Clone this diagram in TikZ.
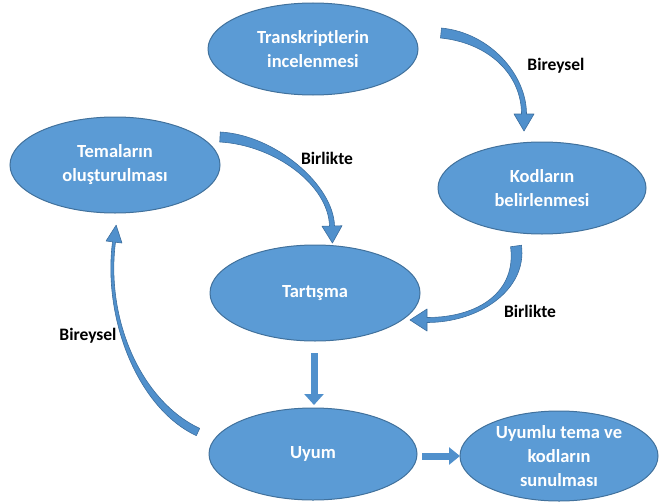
\documentclass[tikz,border=0pt]{standalone}
\usepackage{fontspec}
\setmainfont{Carlito}
\usetikzlibrary{calc,shapes.geometric,arrows.meta}
\definecolor{ellfill}{HTML}{5B9BD5}
\definecolor{ellline}{HTML}{41719C}
\definecolor{arrfill}{HTML}{5090CC}
\definecolor{arrline}{HTML}{3C6E9E}
% tapered curved block arrow: P0 C1 C2 P3, tail half-width, end half-width, head half-width, head length
\newcommand{\tarrow}[8]{%
  \fill[arrfill,draw=arrline,line width=0.6pt,line join=round]
    ($(#1)!#5!90:(#2)$) .. controls ($(#2)!#5!-90:(#1)$) and ($(#3)!#6!90:(#4)$) .. ($(#4)!#6!-90:(#3)$)
    -- ($(#4)!#7!-90:(#3)$) -- ($(#4)!-#8!(#3)$) -- ($(#4)!#7!90:(#3)$)
    -- ($(#4)!#6!90:(#3)$) .. controls ($(#3)!#6!-90:(#4)$) and ($(#2)!#5!90:(#1)$) .. ($(#1)!#5!-90:(#2)$) -- cycle;}
\begin{document}
\begin{tikzpicture}[x=1pt,y=-1pt,
  ell/.style={ellipse, fill=ellfill, draw=ellline, line width=1pt, inner sep=0pt, text=white,
    font=\bfseries\fontsize{18.5}{24}\selectfont, align=center},
  lbl/.style={font=\bfseries\fontsize{17.5}{20}\selectfont, text=black, inner sep=0pt},
  blockarrow/.style={draw=arrfill, line width=7pt}]
\useasboundingbox (0,0) rectangle (660,503);
% nodes
\node[ell, minimum width=210pt, minimum height=92pt] (tr) at (313,49) {Transkriptlerin\\incelenmesi};
\node[ell, minimum width=210pt, minimum height=96pt] (te) at (115,165) {Temaların\\oluşturulması};
\node[ell, minimum width=208pt, minimum height=92pt] (ko) at (542,188) {Kodların\\belirlenmesi};
\node[ell, minimum width=210pt, minimum height=96pt] (ta) at (315,293) {Tartışma};
\node[ell, minimum width=208pt, minimum height=92pt] (uy) at (313,454) {Uyum};
\node[ell, minimum width=198pt, minimum height=90pt] (su) at (559,456) {Uyumlu tema ve\\kodların\\sunulması};
% labels
\node[lbl] (l1) at (556,66) {Bireysel};
\node[lbl] (l2) at (327,158) {Birlikte};
\node[lbl] (l3) at (530,311) {Birlikte};
\node[lbl] (l4) at (88,336) {Bireysel};
% curved arrows
\coordinate (a0) at (441,33); \coordinate (a1) at (490,38); \coordinate (a2) at (524,75); \coordinate (a3) at (524,114);
\tarrow{a0}{a1}{a2}{a3}{5pt}{2.5pt}{10pt}{17pt}
\coordinate (b0) at (220,137); \coordinate (b1) at (275,140); \coordinate (b2) at (331,185); \coordinate (b3) at (332,226);
\tarrow{b0}{b1}{b2}{b3}{5pt}{2.5pt}{10pt}{17pt}
\coordinate (c0) at (516,246); \coordinate (c1) at (522,290); \coordinate (c2) at (480,320); \coordinate (c3) at (427,320);
\tarrow{c0}{c1}{c2}{c3}{5.5pt}{2.5pt}{11pt}{17pt}
\coordinate (e0) at (198,432); \coordinate (e1) at (140,405); \coordinate (e2) at (104,320); \coordinate (e3) at (114,242);
\tarrow{e0}{e1}{e2}{e3}{4pt}{1.5pt}{8pt}{17pt}
% straight arrows
\coordinate (d0) at (314,353); \coordinate (d1) at (314,405);
\draw[blockarrow, -{Triangle[width=19pt,length=11pt]}] (d0) -- (d1);
\coordinate (f0) at (422,456); \coordinate (f1) at (460,456);
\draw[blockarrow, -{Triangle[width=17pt,length=11pt]}] (f0) -- (f1);
\end{tikzpicture}
\end{document}
